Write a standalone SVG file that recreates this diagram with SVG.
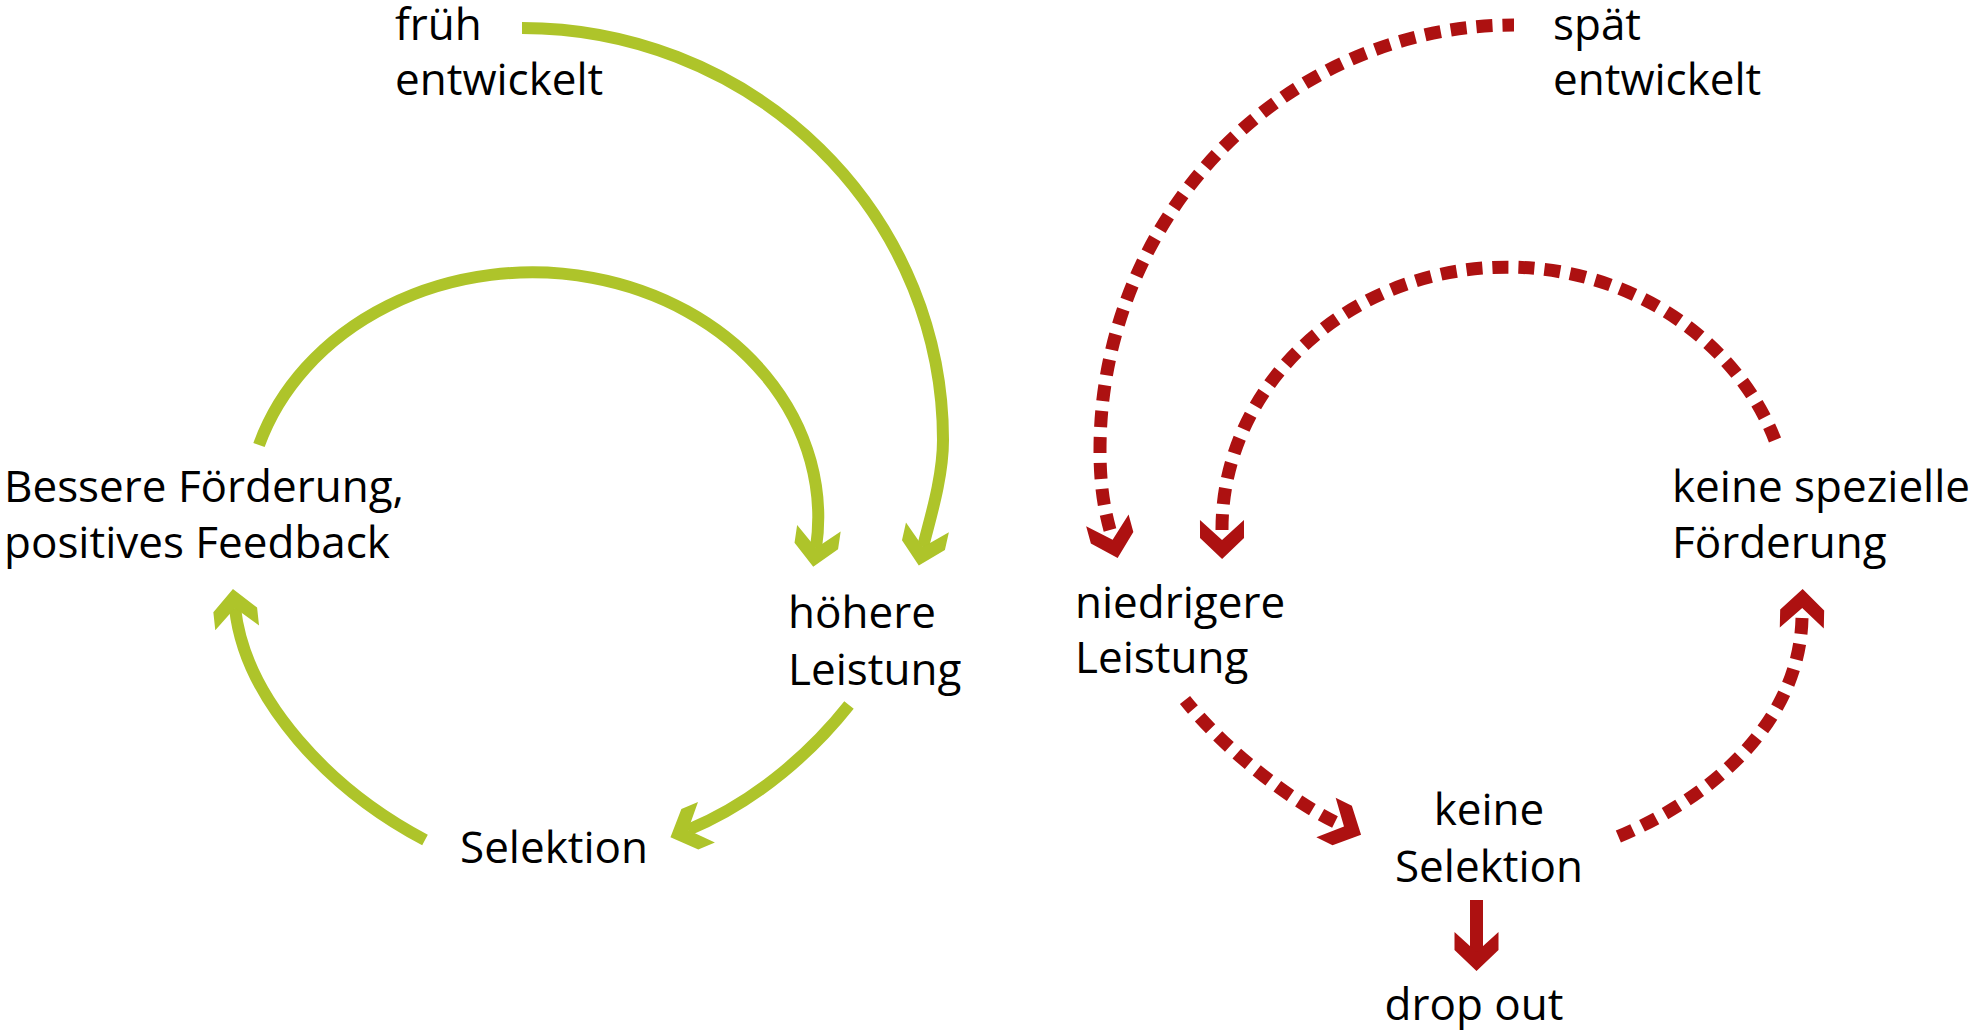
<svg xmlns="http://www.w3.org/2000/svg" width="1971" height="1030" viewBox="0 0 1971 1030">
  <style>
    text { font-family: "Open Sans", "Liberation Sans", sans-serif; font-size: 44px; fill: #000; }
    .mid { text-anchor: middle; }
    .green { fill: none; stroke: #aec42a; stroke-width: 12; stroke-linecap: butt; }
    .red { fill: none; stroke: #ad1111; stroke-width: 13; stroke-linecap: butt; }
    .dash { stroke-dasharray: 16 10; }
  </style>
  <defs>
    <marker id="headGreen" markerUnits="userSpaceOnUse" orient="auto" refX="0" refY="0" markerWidth="40" markerHeight="44" overflow="visible">
      <path d="M19,0 L-2,22 L-20,22 L0,0 L-20,-22 L-2,-22 Z" fill="#aec42a"/>
    </marker>
    <marker id="headRed" markerUnits="userSpaceOnUse" orient="auto" refX="0" refY="0" markerWidth="40" markerHeight="44" overflow="visible">
      <path d="M19,0 L-2,22 L-20,22 L0,0 L-20,-22 L-2,-22 Z" fill="#ad1111"/>
    </marker>
    <marker id="headRedStart" markerUnits="userSpaceOnUse" orient="auto-start-reverse" refX="-10" refY="0" markerWidth="40" markerHeight="44" overflow="visible">
      <path d="M19,0 L-2,22 L-20,22 L0,0 L-20,-22 L-2,-22 Z" fill="#ad1111"/>
    </marker>
  </defs>

  <g id="connectors">
    <!-- green: früh entwickelt -> höhere Leistung -->
    <path class="green" d="M522,28 A421,412 0 0 1 943,440 C943,480 928,525 923,547" marker-end="url(#headGreen)"/>
    <!-- green: Bessere Förderung -> höhere Leistung -->
    <path class="green" d="M259,445 A286,245 0 0 1 816,548" marker-end="url(#headGreen)"/>
    <!-- green: höhere Leistung -> Selektion -->
    <path class="green" d="M849,705 C815,748 760,800 688,830" marker-end="url(#headGreen)"/>
    <!-- green: Selektion -> Bessere Förderung -->
    <path class="green" d="M425,840 C330,790 245,700 235,608" marker-end="url(#headGreen)"/>

    <!-- red dashed: spät entwickelt -> niedrigere Leistung (drawn from arrow end) -->
    <path class="red dash" d="M1110,530 C1104,508 1100,485 1100,450 A414,425 0 0 1 1514,25" marker-start="url(#headRedStart)"/>
    <!-- red dashed: keine spezielle Förderung -> niedrigere Leistung -->
    <path class="red dash" d="M1222,530 A285,262 0 0 1 1775,440" marker-start="url(#headRedStart)"/>
    <!-- red dashed: niedrigere Leistung -> keine Selektion -->
    <path class="red dash" d="M1335,822 C1290,800 1225,750 1185,700" marker-start="url(#headRedStart)"/>
    <!-- red dashed: keine Selektion -> keine spezielle Förderung -->
    <path class="red dash" d="M1802,618 C1800,710 1730,790 1615,838" marker-start="url(#headRedStart)"/>
    <!-- red solid: keine Selektion -> drop out -->
    <path class="red" d="M1476.5,900 L1476.5,952" marker-end="url(#headRed)"/>
  </g>

  <g id="n-frueh-entwickelt">
    <text x="395" y="40">früh</text>
    <text x="395" y="95">entwickelt</text>
  </g>
  <g id="n-spaet-entwickelt">
    <text x="1553" y="40">spät</text>
    <text x="1553" y="95">entwickelt</text>
  </g>
  <g id="n-bessere-foerderung">
    <text x="4" y="502">Bessere Förderung,</text>
    <text x="4" y="558">positives Feedback</text>
  </g>
  <g id="n-hoehere-leistung">
    <text x="788" y="628">höhere</text>
    <text x="788" y="685">Leistung</text>
  </g>
  <g id="n-selektion">
    <text x="460" y="863">Selektion</text>
  </g>
  <g id="n-niedrigere-leistung">
    <text x="1075" y="618">niedrigere</text>
    <text x="1075" y="673">Leistung</text>
  </g>
  <g id="n-keine-spezielle-foerderung">
    <text x="1672" y="502">keine spezielle</text>
    <text x="1672" y="558">Förderung</text>
  </g>
  <g id="n-keine-selektion">
    <text class="mid" x="1489" y="825">keine</text>
    <text class="mid" x="1489" y="882">Selektion</text>
  </g>
  <g id="n-drop-out">
    <text class="mid" x="1474" y="1020">drop out</text>
  </g>
</svg>
